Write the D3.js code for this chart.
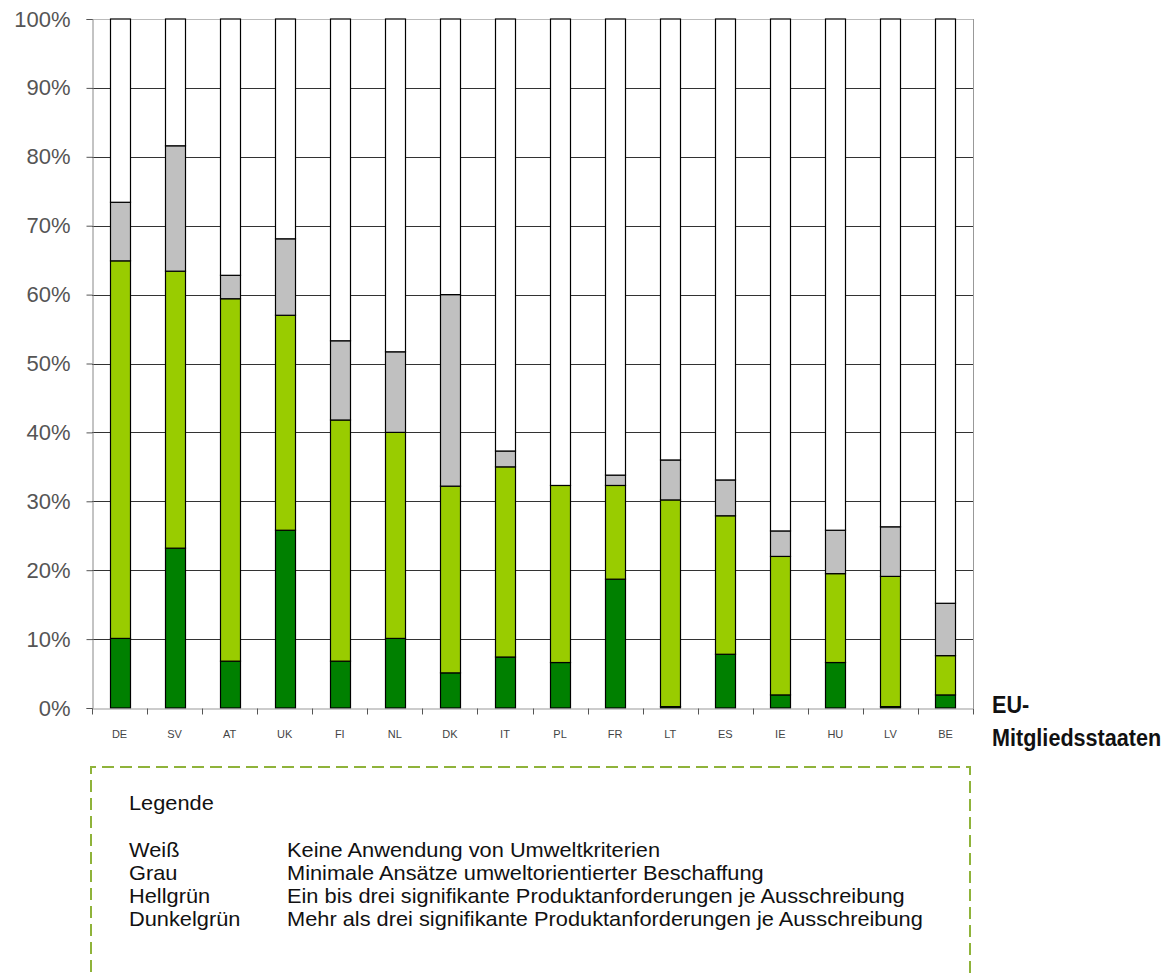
<!DOCTYPE html>
<html>
<head>
<meta charset="utf-8">
<script src="https://cdn.jsdelivr.net/npm/d3@7"></script>
<style>
  body { margin: 0; background: #fff; }
  svg text { font-family: "Liberation Sans", Arial, sans-serif; }
</style>
</head>
<body>
<div id="chart"></div>
<script>
// Laender und Anteile (Prozent) je Kategorie
let countries = ["DE", "SV", "AT", "UK", "FI", "NL", "DK", "IT", "PL", "FR", "LT", "ES", "IE", "HU", "LV", "BE"];
let dunkelgruen = [10.1, 23.2, 6.8, 25.8, 6.8, 10.1, 5.1, 7.4, 6.6, 18.7, 0.2, 7.8, 1.9, 6.6, 0.2, 1.9];
let hellgruen = [54.8, 40.2, 52.6, 31.2, 35.0, 29.9, 27.1, 27.6, 25.7, 13.6, 30.0, 20.1, 20.1, 12.9, 18.9, 5.7];
let grau = [8.5, 18.2, 3.4, 11.1, 11.5, 11.7, 27.8, 2.3, 0, 1.5, 5.8, 5.2, 3.7, 6.3, 7.2, 7.6];
let yTicks = [0, 10, 20, 30, 40, 50, 60, 70, 80, 90, 100];

let legendTitle = "Legende";
let legendNames = ["Weiß", "Grau", "Hellgrün", "Dunkelgrün"];
let legendTexts = [
    "Keine Anwendung von Umweltkriterien",
    "Minimale Ansätze umweltorientierter Beschaffung",
    "Ein bis drei signifikante Produktanforderungen je Ausschreibung",
    "Mehr als drei signifikante Produktanforderungen je Ausschreibung"
];

let keys = ["dunkel", "hell", "grau", "weiss"];
let color = d3.scaleOrdinal(keys, ["#008000", "#99cc00", "#c0c0c0", "#ffffff"]);

let dataset = countries.map(function (c, i) {
    let rest = 100 - dunkelgruen[i] - hellgruen[i] - grau[i];
    return {land: c, dunkel: dunkelgruen[i], hell: hellgruen[i], grau: grau[i], weiss: rest};
});

let width = 1168, height = 973;
let margin = {left: 92, right: 195, top: 19, bottom: 265};

let svg = d3.select("#chart").append("svg")
    .attr("width", width)
    .attr("height", height);

let x = d3.scaleBand()
    .domain(countries)
    .range([margin.left, width - margin.right])
    .paddingInner(0)
    .paddingOuter(0);

let y = d3.scaleLinear()
    .domain([0, 100])
    .range([height - margin.bottom, margin.top]);

let barWidth = 20;

// gridlines
svg.append("g")
    .selectAll("line")
    .data(yTicks.slice(1))
    .enter().append("line")
    .attr("x1", margin.left)
    .attr("x2", width - margin.right)
    .attr("y1", function (d) { return Math.round(y(d)) + 0.5; })
    .attr("y2", function (d) { return Math.round(y(d)) + 0.5; })
    .attr("stroke", function (d) { return d == 100 ? "#bbb" : "#333"; })
    .attr("stroke-width", 1);

// right border
svg.append("line")
    .attr("x1", width - margin.right + 0.5)
    .attr("x2", width - margin.right + 0.5)
    .attr("y1", margin.top)
    .attr("y2", y(0))
    .attr("stroke", "#999");

// bars
let stack = d3.stack().keys(keys);
let series = stack(dataset);

svg.append("g")
    .selectAll("g")
    .data(series)
    .enter().append("g")
    .attr("fill", function (d) { return color(d.key); })
    .selectAll("rect")
    .data(function (d) { return d.filter(function (s) { return s[1] - s[0] > 0; }); })
    .enter().append("rect")
    .attr("x", function (d) { return Math.round(x(d.data.land) + x.bandwidth() / 2 - barWidth / 2) + 0.5; })
    .attr("width", barWidth)
    .attr("y", function (d) { return y(d[1]); })
    .attr("height", function (d) { return y(d[0]) - y(d[1]); })
    .attr("stroke", "#000")
    .attr("stroke-width", 1.2);

// y axis
let yAxis = d3.axisLeft(y)
    .tickValues(yTicks)
    .tickSize(6)
    .tickPadding(16)
    .tickFormat(function (d) { return d + "%"; });

let gy = svg.append("g")
    .attr("transform", "translate(" + (margin.left + 0.5) + ",0)")
    .call(yAxis);
gy.select(".domain").attr("stroke", "#888");
gy.selectAll(".tick line").attr("stroke", "#555");
gy.selectAll(".tick text")
    .attr("font-family", "Liberation Sans, Arial, sans-serif")
    .attr("font-size", 22)
    .attr("fill", "#555");

// x axis
let xAxis = d3.axisBottom(x).tickSize(0).tickPadding(22);
let gx = svg.append("g")
    .attr("transform", "translate(0," + (Math.round(y(0)) + 0.5) + ")")
    .call(xAxis);
gx.select(".domain").attr("stroke", "#999");
gx.selectAll(".tick text")
    .attr("font-family", "DejaVu Sans, sans-serif")
    .attr("font-size", 11)
    .attr("fill", "#444");

// tick marks between categories
gx.append("g")
    .selectAll("line")
    .data(countries.concat(["end"]))
    .enter().append("line")
    .attr("x1", function (d, i) { return Math.round(margin.left + i * x.bandwidth()) + 0.5; })
    .attr("x2", function (d, i) { return Math.round(margin.left + i * x.bandwidth()) + 0.5; })
    .attr("y1", 0)
    .attr("y2", 6)
    .attr("stroke", "#555");

// axis title right (schmale Schrift)
let tTitle = svg.append("text")
    .attr("transform", "translate(992,0) scale(0.9,1)")
    .attr("y", 713)
    .attr("font-size", 24)
    .attr("font-weight", "bold")
    .attr("fill", "#111");
tTitle.append("tspan").attr("x", 0).text("EU-");
tTitle.append("tspan").attr("x", 0).attr("dy", 33).text("Mitgliedsstaaten");

// legend box
svg.append("path")
    .attr("d", "M91,990 L91,767 L970,767 L970,990")
    .attr("fill", "none")
    .attr("stroke", "#8fb33a")
    .attr("stroke-width", 2)
    .attr("stroke-dasharray", "12,6");

let fs = 20, stretch = 1.09;

svg.append("text")
    .attr("transform", "translate(129,810) scale(" + stretch + ",1)")
    .attr("font-size", fs)
    .attr("fill", "#111")
    .text(legendTitle);

let rows = svg.append("g")
    .selectAll("g")
    .data(legendNames)
    .enter().append("g")
    .attr("transform", function (d, i) { return "translate(0," + (857 + i * 23) + ")"; });

rows.append("text")
    .attr("transform", "translate(129,0) scale(" + stretch + ",1)")
    .attr("font-size", fs)
    .attr("fill", "#111")
    .text(function (d) { return d; });

rows.append("text")
    .attr("transform", "translate(287,0) scale(" + stretch + ",1)")
    .attr("font-size", fs)
    .attr("fill", "#111")
    .text(function (d, i) { return legendTexts[i]; });
</script>
</body>
</html>
